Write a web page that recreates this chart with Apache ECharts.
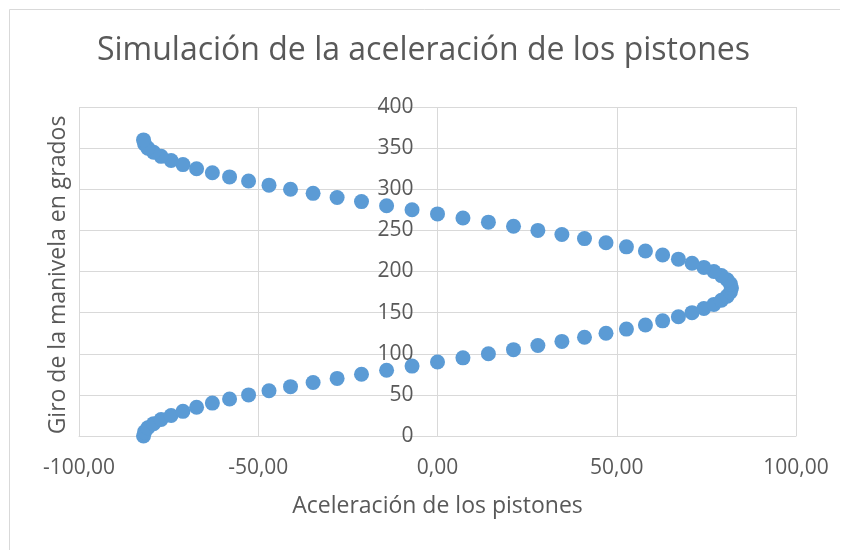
<!DOCTYPE html>
<html>
<head>
<meta charset="utf-8">
<script src="https://cdn.jsdelivr.net/npm/echarts@6/dist/echarts.min.js"></script>
<style>
  html, body { margin: 0; padding: 0; background: #fff; }
  #chart { width: 847px; height: 550px; }
</style>
</head>
<body>
<div id="chart"></div>
<script>
// giro de la manivela (grados), cada 5 grados
const giro = [
  0, 5, 10, 15, 20, 25, 30, 35, 40, 45, 50, 55, 60, 65, 70, 75, 80, 85, 90,
  95, 100, 105, 110, 115, 120, 125, 130, 135, 140, 145, 150, 155, 160, 165, 170, 175, 180,
  185, 190, 195, 200, 205, 210, 215, 220, 225, 230, 235, 240, 245, 250, 255, 260, 265, 270,
  275, 280, 285, 290, 295, 300, 305, 310, 315, 320, 325, 330, 335, 340, 345, 350, 355, 360
]
// aceleración
const aceleracion = [
  -82.0, -81.7, -80.8, -79.2, -77.1, -74.3, -71.0, -67.2, -62.8, -58.0, -52.7, -47.0, -41.0, -34.7, -28.0, -21.2, -14.2, -7.1, 0.0,
  7.1, 14.2, 21.2, 28.0, 34.7, 41.0, 47.0, 52.7, 58.0, 62.8, 67.2, 71.0, 74.3, 77.1, 79.2, 80.8, 81.7, 82.0,
  81.7, 80.8, 79.2, 77.1, 74.3, 71.0, 67.2, 62.8, 58.0, 52.7, 47.0, 41.0, 34.7, 28.0, 21.2, 14.2, 7.1, 0.0,
  -7.1, -14.2, -21.2, -28.0, -34.7, -41.0, -47.0, -52.7, -58.0, -62.8, -67.2, -71.0, -74.3, -77.1, -79.2, -80.8, -81.7, -82.0
]

let puntos = aceleracion.map((a, i) => [a, giro[i]])

let textColor = '#595959'
let gridColor = '#d9d9d9'
let font = 'Open Sans'

let option = {
  backgroundColor: '#fff',
  animation: false,
  title: {
    text: 'Simulación de la aceleración de los pistones',
    left: 'center',
    top: 30,
    textStyle: {
      color: textColor,
      fontFamily: font,
      fontWeight: 'normal',
      fontSize: 32
    }
  },
  grid: {
    left: 79,
    right: 51,
    top: 107,
    bottom: 114,
    outerBoundsMode: 'none',
    containLabel: false
  },
  xAxis: {
    type: 'value',
    min: -100,
    max: 100,
    interval: 50,
    name: 'Aceleración de los pistones',
    nameLocation: 'middle',
    nameGap: 59,
    nameTextStyle: { color: textColor, fontFamily: font, fontSize: 23 },
    axisLine: { show: true, lineStyle: { color: gridColor } },
    axisTick: { show: false },
    axisLabel: {
      color: textColor,
      fontFamily: font,
      fontSize: 21,
      margin: 22,
      formatter: v => v.toFixed(2).replace('.', ',')
    },
    splitLine: { show: true, lineStyle: { color: gridColor } }
  },
  yAxis: {
    type: 'value',
    min: 0,
    max: 400,
    interval: 50,
    position: 'left',
    // el eje vertical cruza en x = 0
    offset: -358.5,
    axisLine: { show: false },
    axisTick: { show: false },
    axisLabel: {
      color: textColor,
      fontFamily: font,
      fontSize: 21,
      margin: 24
    },
    splitLine: { show: true, lineStyle: { color: gridColor } }
  },
  graphic: [
    {
      type: 'text',
      x: 58,
      y: 275,
      rotation: Math.PI / 2,
      style: {
        text: 'Giro de la manivela en grados',
        fill: textColor,
        font: '23px "Open Sans"',
        align: 'center',
        verticalAlign: 'middle'
      }
    },
    {
      type: 'line',
      shape: { x1: 9.5, y1: 9.5, x2: 840, y2: 9.5 },
      style: { stroke: gridColor, lineWidth: 1 }
    },
    {
      type: 'line',
      shape: { x1: 9.5, y1: 9.5, x2: 9.5, y2: 550 },
      style: { stroke: gridColor, lineWidth: 1 }
    }
  ],
  series: [{
    type: 'scatter',
    symbol: 'circle',
    symbolSize: 15,
    itemStyle: { color: '#5b9bd5', opacity: 1 },
    data: puntos
  }]
}

let myChart = echarts.init(document.getElementById('chart'))
myChart.setOption(option)
</script>
</body>
</html>
